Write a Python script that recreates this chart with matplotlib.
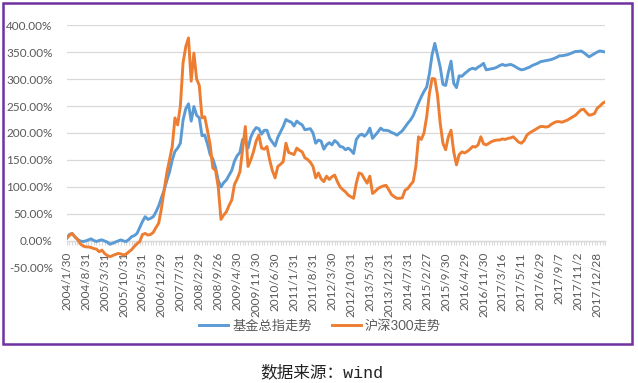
import matplotlib
matplotlib.use("Agg")
import matplotlib.pyplot as plt
import matplotlib.patches as patches
from matplotlib.ticker import FuncFormatter, MultipleLocator

plt.rcParams['font.family'] = ['Lato', 'Noto Sans CJK SC', 'DejaVu Sans']

tick_labels = [
    "2004/1/30", "2004/8/31", "2005/3/31", "2005/10/31", "2006/5/31", "2006/12/29",
    "2007/7/31", "2008/2/29", "2008/9/26", "2009/4/30", "2009/11/30", "2010/6/30",
    "2011/1/31", "2011/8/31", "2012/3/30", "2012/10/31", "2013/5/31", "2013/12/31",
    "2014/7/31", "2015/2/27", "2015/9/30", "2016/4/29", "2016/11/30", "2017/3/16",
    "2017/5/11", "2017/6/29", "2017/9/7", "2017/11/2", "2017/12/28",
]

# 基金总指走势 (%)
fund_index = [
    5, 12, 14, 8, 3, 0, -1, 0, 2, 4,
    1, -1, 1, 2, 0, -2, -6, -4, -2, 0,
    2, 0, -1, 3, 8, 10, 14, 25, 36, 45,
    40, 42, 45, 54, 65, 80, 94, 112, 128, 150,
    166, 172, 181, 224, 245, 254, 222, 249, 233, 228,
    195, 196, 180, 160, 152, 136, 112, 100, 108, 113,
    122, 131, 148, 158, 164, 188, 185, 172, 192, 203,
    210, 208, 198, 205, 205, 190, 183, 176, 192, 202,
    212, 225, 222, 220, 213, 222, 218, 215, 206, 207,
    208, 200, 181, 187, 185, 170, 178, 182, 178, 186,
    182, 175, 174, 169, 172, 168, 162, 188, 195, 198,
    194, 199, 209, 190, 196, 202, 209, 205, 205, 204,
    201, 199, 196, 200, 204, 211, 218, 224, 232, 244,
    256, 267, 277, 285, 310, 345, 366, 344, 322, 290,
    288, 312, 333, 292, 284, 306, 305, 310, 314, 318,
    320, 318, 322, 325, 329, 317, 318, 319, 320, 322,
    325, 327, 325, 326, 327, 325, 322, 319, 317, 318,
    320, 322, 325, 327, 329, 332, 333, 334, 335, 336,
    338, 340, 343, 343, 344, 345, 347, 349, 351, 351,
    352, 349, 345, 341, 344, 347, 350, 352, 351, 350,
]

# 沪深300走势 (%)
hs300 = [
    5, 10, 14, 8, 3, -5, -9, -11, -11, -12,
    -14, -15, -20, -17, -23, -27, -29, -27, -25, -23,
    -24, -26, -24, -20, -16, -10, -5, -1, 12, 14,
    11, 12, 16, 25, 33, 60, 94, 126, 150, 175,
    228, 215, 250, 330, 360, 376, 296, 348, 300, 288,
    228, 230, 205, 178, 135, 131, 100, 40, 48, 54,
    66, 76, 105, 115, 128, 170, 212, 138, 150, 165,
    185, 196, 172, 170, 175, 150, 130, 117, 138, 142,
    147, 181, 164, 162, 160, 172, 168, 165, 154, 151,
    146, 138, 117, 126, 115, 110, 120, 114, 119, 122,
    110, 100, 95, 91, 85, 82, 79, 107, 126, 124,
    115, 107, 120, 88, 92, 97, 100, 102, 103, 95,
    86, 82, 79, 79, 80, 94, 97, 104, 110, 138,
    193, 188, 200, 230, 273, 301, 300, 270, 218, 181,
    169, 193, 205, 165, 141, 160, 165, 163, 166, 170,
    175, 174, 178, 193, 180, 178, 181, 184, 186, 187,
    187, 189, 188, 190, 191, 193, 188, 183, 181, 186,
    196, 200, 203, 206, 209, 212, 212, 211, 212, 216,
    219, 221, 221, 220, 222, 224, 227, 230, 233, 238,
    243, 244, 238, 233, 234, 236, 246, 250, 255, 258,
]

x = list(range(len(fund_index)))

fig = plt.figure(figsize=(6.38, 3.83), dpi=100)
ax = fig.add_axes([0.1045, 0.3003, 0.8443, 0.6344])

ax.plot(x, fund_index, color='#5B9BD5', lw=2.1, label='基金总指走势', solid_joinstyle='round', zorder=3)
ax.plot(x, hs300, color='#ED7D31', lw=2.1, label='沪深300走势', solid_joinstyle='round', zorder=3)

ax.set_xlim(0, len(x) - 1)
ax.set_ylim(-50, 400)
ax.yaxis.set_major_locator(MultipleLocator(50))
ax.yaxis.set_major_formatter(FuncFormatter(lambda v, p: f"{v:.2f}%"))
ax.grid(axis='y', color='#D9D9D9', lw=0.9, zorder=0)

for s in ['top', 'right', 'left']:
    ax.spines[s].set_visible(False)
ax.spines['bottom'].set_position(('data', 0))
ax.spines['bottom'].set_color('#D9D9D9')
ax.spines['bottom'].set_linewidth(0.9)

ax.set_xticks(range(0, len(x), 7))
ax.set_xticklabels(tick_labels, rotation=90)
ax.set_xticks(x, minor=True)
ax.tick_params(axis='x', which='both', length=3, color='#D9D9D9', width=0.8, pad=5,
               labelsize=8.5, labelcolor='#595959')
ax.tick_params(axis='y', length=0, pad=10, labelsize=8.5, labelcolor='#595959')

fig.legend(loc='center', bbox_to_anchor=(320 / 638, 1 - 325 / 383), ncol=2, frameon=False,
           fontsize=9.5, handlelength=2.2, handletextpad=0.3, columnspacing=1.5,
           labelcolor='#595959')

fig.patches.append(patches.Rectangle((3 / 638, 1 - 344 / 383), 629 / 638, 341 / 383,
                                     transform=fig.transFigure, fill=False,
                                     edgecolor='#7030A0', lw=1.8))

fig.text(0.504, 1 - 372 / 383, '数据来源：wind', ha='center', va='center', fontsize=12,
         color='#222222', family=['Liberation Mono', 'Noto Sans CJK SC'])

fig.savefig('out.png', dpi=100)
